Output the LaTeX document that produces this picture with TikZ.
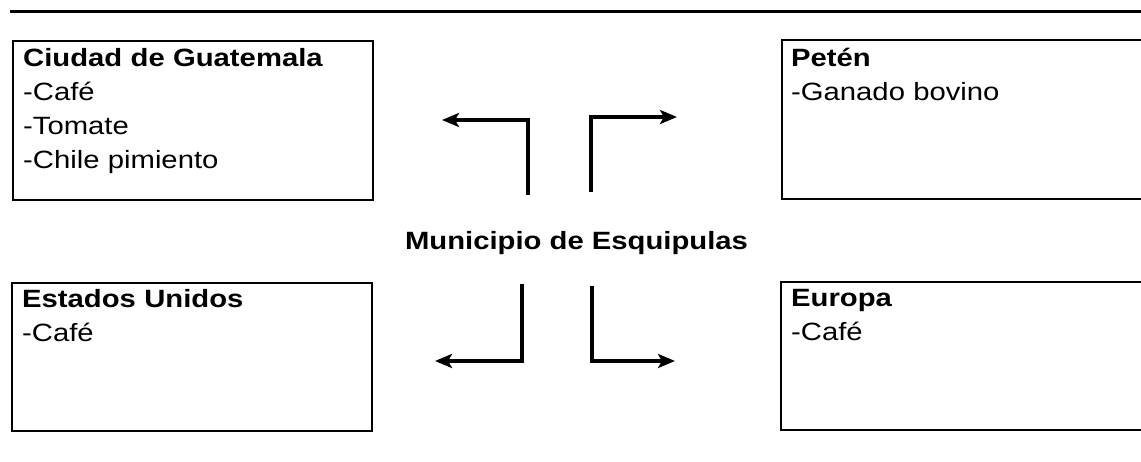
\documentclass[tikz,border=0pt]{standalone}
\usepackage{fontspec}
\setmainfont{Liberation Sans}[FakeStretch=1.17]
\usetikzlibrary{arrows.meta}
\begin{document}
\begin{tikzpicture}[x=1pt,y=-1pt,
  box/.style={draw, line width=1.6pt, minimum width=360pt, minimum height=159pt, anchor=north west, inner sep=0pt},
  txt/.style={anchor=base west, inner sep=0pt, text width=340pt, align=left, font=\fontsize{25}{34}\selectfont},
  title/.style={font=\fontsize{25}{30}\selectfont\bfseries, inner sep=0pt, anchor=base},
  flow/.style={line width=4.2pt, -{Stealth[length=17pt,width=14pt,inset=4pt]}},
  rule/.style={line width=2.2pt}]
\useasboundingbox (0,0) rectangle (1141,462);
% top rule
\coordinate (r0) at (10,11.5);
\coordinate (r1) at (1141,11.5);
\draw[rule] (r0) -- (r1);
% boxes
\node[box] (gua) at (12,40) {};
\node[box, minimum width=362pt] (pet) at (781,39) {};
\node[box, minimum height=148pt] (usa) at (11,282) {};
\node[box, minimum width=363pt, minimum height=148pt] (eur) at (780,281) {};
% texts
\node[txt] (guat) at (23,67) {\textbf{Ciudad de Guatemala}\\-Café\\-Tomate\\-Chile pimiento};
\node[txt] (pett) at (791,67) {\textbf{Petén}\\-Ganado bovino};
\node[txt] (usat) at (22,308) {\textbf{Estados Unidos}\\-Café};
\node[txt] (eurt) at (791,307) {\textbf{Europa}\\-Café};
% centre
\node[title] (mun) at (576.5,250) {Municipio de Esquipulas};
% arrows
\coordinate (tl0) at (528,195);
\coordinate (tl1) at (442,120);
\coordinate (tr0) at (591,192);
\coordinate (tr1) at (677,117);
\coordinate (bl0) at (522,284);
\coordinate (bl1) at (435,361);
\coordinate (br0) at (592,286);
\coordinate (br1) at (675,361);
\draw[flow] (tl0) |- (tl1);
\draw[flow] (tr0) |- (tr1);
\draw[flow] (bl0) |- (bl1);
\draw[flow] (br0) |- (br1);
\end{tikzpicture}
\end{document}
